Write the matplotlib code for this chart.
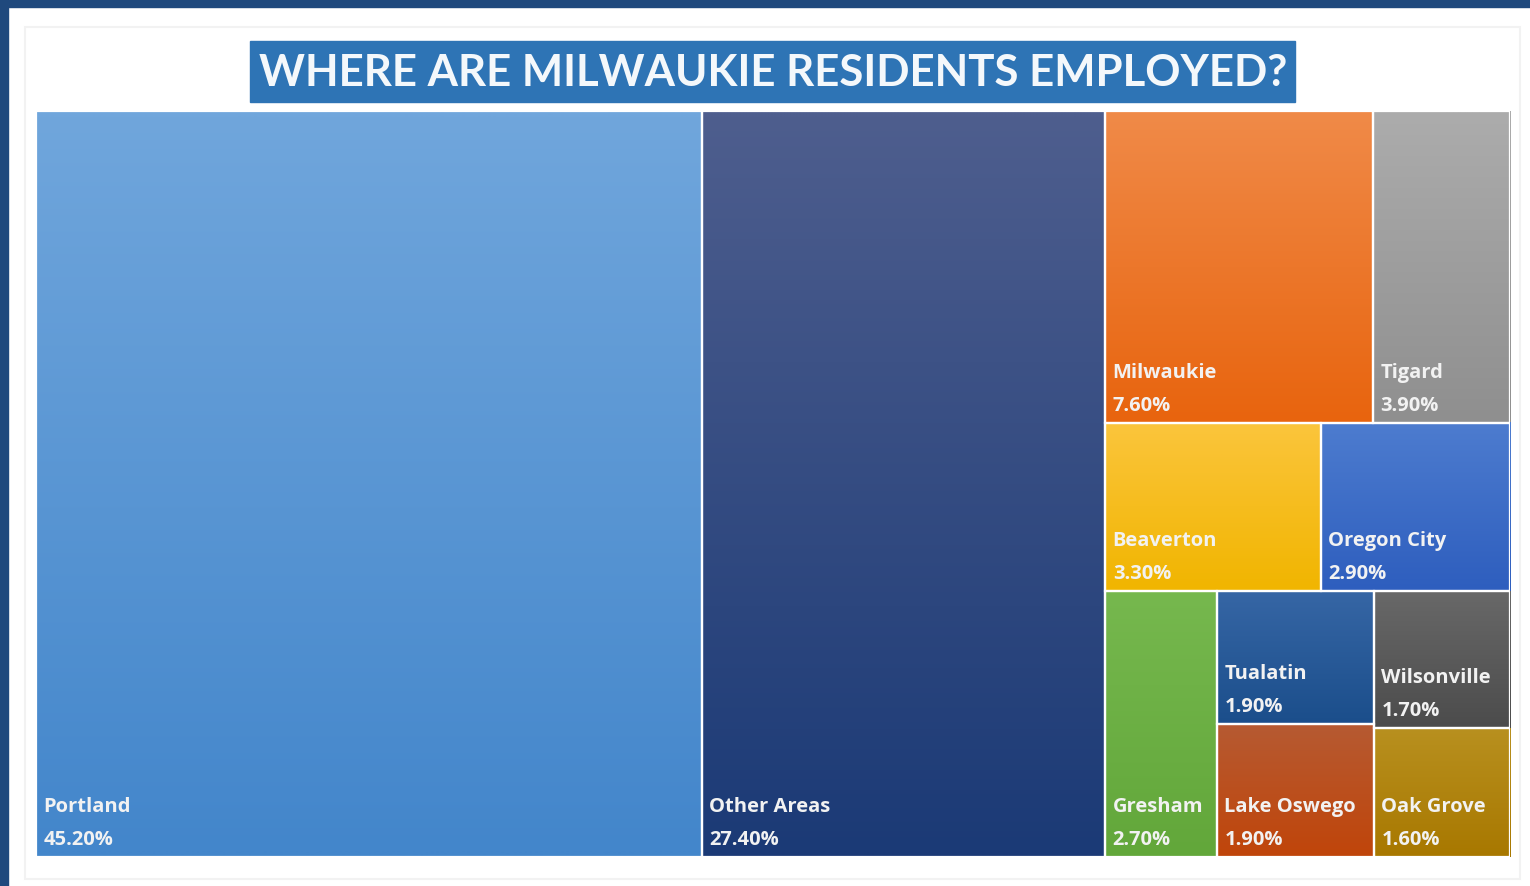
import matplotlib.pyplot as plt
import matplotlib.patches as mpatches
import matplotlib.colors as mcolors
import numpy as np

plt.rcParams['font.family'] = ['Lato', 'DejaVu Sans']

title = 'WHERE ARE MILWAUKIE RESIDENTS EMPLOYED?'
places = ['Portland', 'Other Areas', 'Milwaukie', 'Tigard', 'Beaverton', 'Oregon City',
          'Gresham', 'Tualatin', 'Lake Oswego', 'Wilsonville', 'Oak Grove']
shares = [45.2, 27.4, 7.6, 3.9, 3.3, 2.9, 2.7, 1.9, 1.9, 1.7, 1.6]
top_colors = ['#70a6dc', '#4e5e8e', '#f08a48', '#acacac', '#fbc53c', '#4d7ccf',
              '#76b84e', '#3666a5', '#b65a32', '#686868', '#b8901f']
bottom_colors = ['#4386cb', '#1b3a76', '#e8640e', '#8f8f8f', '#f1b500', '#2e5ebe',
                 '#62a73a', '#1b4e8b', '#c0450a', '#4c4c4c', '#a87800']

# how the tiles are nested: 'h' splits left-to-right, 'v' splits top-to-bottom
layout = ('h', [0, 1, ('v', [('h', [2, 3]), ('h', [4, 5]),
                             ('h', [6, ('v', [7, 8]), ('v', [9, 10])])])])


def total(node):
    if isinstance(node, int):
        return shares[node]
    return sum(total(c) for c in node[1])


def place(node, x0, y0, x1, y1, out):
    # y1 is the top edge
    if isinstance(node, int):
        out[node] = (x0, y0, x1, y1)
        return
    kind, kids = node
    s = total(node)
    pos = x0 if kind == 'h' else y1
    for k in kids:
        frac = total(k) / s
        if kind == 'h':
            w = (x1 - x0) * frac
            place(k, pos, y0, pos + w, y1, out)
            pos += w
        else:
            h = (y1 - y0) * frac
            place(k, x0, pos - h, x1, pos, out)
            pos -= h


W, H = 1530, 887
fig = plt.figure(figsize=(W / 100, H / 100), dpi=100)
fig.patch.set_facecolor('white')

# dark frame on top and left edge of the screenshot
fig.add_artist(mpatches.Rectangle((0, 1 - 8 / H), 1, 8 / H, transform=fig.transFigure,
                                  color='#1f497d', zorder=0))
fig.add_artist(mpatches.Rectangle((0, 0), 8 / W, 1, transform=fig.transFigure,
                                  color='#1f497d', zorder=0))
fig.add_artist(mpatches.Rectangle((25 / W, 7 / H), 1495 / W, 852 / H, transform=fig.transFigure,
                                  facecolor='none', edgecolor='#f2f2f2', lw=1.5, zorder=0))

# title box
fig.add_artist(mpatches.Rectangle((250 / W, 1 - 103 / H), 1045 / W, 61 / H,
                                  transform=fig.transFigure, color='#2e74b5', zorder=1))
fig.text(773 / W, 1 - 73 / H, title, ha='center', va='center', color='#f4f8fb',
         fontsize=31.5, fontweight='bold', zorder=2)

ax = fig.add_axes([36 / W, 1 - 858 / H, 1474 / W, 746 / H])
full = total(layout)
rects = {}
place(layout, 0, 0, full, 1, rects)

lbl = dict(color='#f2f2f2', fontsize=14.5, fontweight='bold', va='baseline', zorder=3,
           family=['Open Sans', 'DejaVu Sans'], textcoords='offset points')

for i, name in enumerate(places):
    x0, y0, x1, y1 = rects[i]
    c_top = np.array(mcolors.to_rgb(top_colors[i]))
    c_bot = np.array(mcolors.to_rgb(bottom_colors[i]))
    t = np.linspace(0, 1, 64)[:, None]
    grad = (c_top * (1 - t) + c_bot * t)[:, None, :]
    ax.imshow(grad, extent=(x0, x1, y0, y1), aspect='auto', interpolation='bilinear', zorder=1)
    ax.add_patch(mpatches.Rectangle((x0, y0), x1 - x0, y1 - y0, facecolor='none',
                                    edgecolor='white', lw=1.6, zorder=2))
    ax.annotate(name, (x0, y0), xytext=(5.5, 33), **lbl)
    ax.annotate(f'{shares[i]:.2f}%', (x0, y0), xytext=(5.5, 9.5), **lbl)

ax.set_xlim(0, full)
ax.set_ylim(0, 1)
ax.axis('off')

fig.savefig('out.png', dpi=100)
